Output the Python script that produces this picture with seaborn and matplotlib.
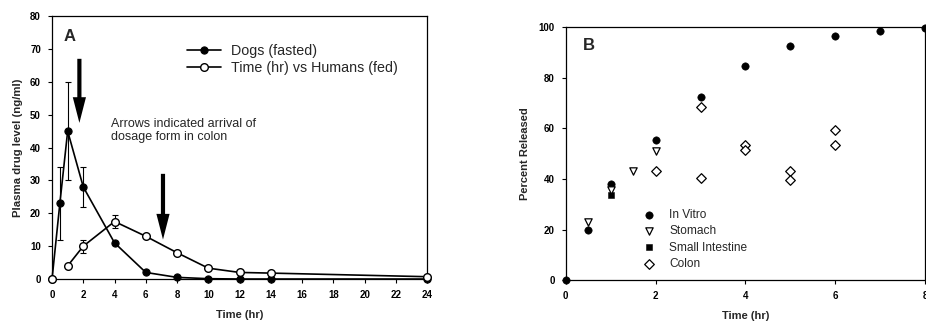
import numpy as np
import pandas as pd
import matplotlib
matplotlib.use("Agg")
import matplotlib.pyplot as plt
import seaborn as sns

# ---------------- Data: panel A ----------------
time_a = [0, 0.5, 1, 2, 4, 6, 8, 10, 12, 14, 24]
dogs = [0, 23, 45, 28, 11, 2, 0.5, 0.1, 0, 0, 0]
dogs_err = [0, 11, 15, 6, 0, 0, 0, 0, 0, 0, 0]
time_h = [0, 1, 2, 4, 6, 8, 10, 12, 14, 24]
humans = [0, 4, 10, 17.5, 13, 8, 3.3, 2, 1.8, 0.7]
humans_err = [0, 0, 2, 2, 0, 0, 0, 0, 0, 0]
arrow_x = [1.75, 7.1]
arrow_top = [67, 32]
arrow_tip = [47.5, 12]
xticks_a = list(range(0, 25, 2))
yticks_a = list(range(0, 81, 10))

# ---------------- Data: panel B ----------------
vitro_t = [0, 0.5, 1, 2, 3, 4, 5, 6, 7, 8]
vitro_v = [0, 20, 38, 55.5, 72.5, 84.5, 92.5, 96.5, 98.5, 99.5]
stomach_t = [0.5, 1, 1.5, 2]
stomach_v = [23, 35.5, 43, 51]
small_t = [1]
small_v = [33.5]
colon_t = [2, 3, 3, 4, 4, 5, 5, 6, 6]
colon_v = [43, 68.5, 40.5, 53.5, 51.5, 43, 39.5, 59.5, 53.5]
xticks_b = [0, 2, 4, 6, 8]
yticks_b = [0, 20, 40, 60, 80, 100]

sns.set_style("white")
plt.rcParams['font.family'] = ['Liberation Sans', 'DejaVu Sans']

fig = plt.figure(figsize=(9.26, 3.22), dpi=100)
axA = fig.add_axes([0.0562, 0.1335, 0.405, 0.8165])
axB = fig.add_axes([0.611, 0.130, 0.388, 0.786])

# ---- Panel A ----
dfd = pd.DataFrame({"t": time_a, "v": dogs})
dfh = pd.DataFrame({"t": time_h, "v": humans})
sns.lineplot(data=dfd, x="t", y="v", ax=axA, color="black", lw=1.2,
             marker="o", markersize=5.2, markerfacecolor="black",
             markeredgecolor="black", label="Dogs (fasted)", clip_on=False, zorder=4)
# humans: line starts at 1 hr, marker also at 0
sns.lineplot(data=dfh.iloc[1:], x="t", y="v", ax=axA, color="black", lw=1.2,
             marker="o", markersize=5.5, markerfacecolor="white",
             markeredgecolor="black", markeredgewidth=1.0,
             label="Time (hr) vs Humans (fed)", clip_on=False, zorder=5)
axA.plot(dfh.t.iloc[:1], dfh.v.iloc[:1], "o", ms=5.5, mfc="white", mec="black",
         mew=1.0, clip_on=False, zorder=6)
axA.errorbar(time_a, dogs, yerr=[[e if e else np.nan for e in dogs_err]] * 2,
             fmt="none", ecolor="black", elinewidth=0.8, capsize=2, capthick=0.8, zorder=3)
axA.errorbar(time_h, humans, yerr=[[e if e else np.nan for e in humans_err]] * 2,
             fmt="none", ecolor="black", elinewidth=0.8, capsize=2, capthick=0.8, zorder=3)
for x, t0, t1 in zip(arrow_x, arrow_top, arrow_tip):
    axA.annotate("", xy=(x, t1), xytext=(x, t0),
                 arrowprops=dict(arrowstyle="simple,head_length=1.85,head_width=0.95,tail_width=0.3",
                                 mutation_scale=10, lw=0, fc="black", ec="black",
                                 shrinkA=0, shrinkB=0))
axA.text(3.75, 49, "Arrows indicated arrival of\ndosage form in colon",
         fontsize=9, va="top", ha="left", linespacing=1.1)
axA.text(0.75, 76, "A", fontsize=12, fontweight="bold", va="top", ha="left")
axA.set_xlim(0, 24)
axA.set_ylim(0, 80)
axA.set_xticks(xticks_a)
axA.set_yticks(yticks_a)
axA.set_xlabel("Time (hr)", fontsize=8, fontweight="bold", labelpad=7)
axA.set_ylabel("Plasma drug level (ng/ml)", fontsize=8.2, fontweight="bold", labelpad=5)
leg = axA.legend(loc="upper left", bbox_to_anchor=(0.36, 0.895), frameon=False,
                 fontsize=10.3, handlelength=2.4, handletextpad=0.7, labelspacing=0.2,
                 borderpad=0, borderaxespad=0)

# ---- Panel B ----
dfb = pd.concat([
    pd.DataFrame({"t": vitro_t, "v": vitro_v, "s": "In Vitro"}),
    pd.DataFrame({"t": stomach_t, "v": stomach_v, "s": "Stomach"}),
    pd.DataFrame({"t": small_t, "v": small_v, "s": "Small Intestine"}),
    pd.DataFrame({"t": colon_t, "v": colon_v, "s": "Colon"}),
], ignore_index=True)
sns.scatterplot(data=dfb[dfb.s == "In Vitro"], x="t", y="v", ax=axB, marker="o",
                s=28, color="black", edgecolor="black", label="In Vitro", clip_on=False, zorder=4)
sns.scatterplot(data=dfb[dfb.s == "Stomach"], x="t", y="v", ax=axB, marker="v",
                s=28, facecolor="white", edgecolor="black", linewidth=0.9,
                label="Stomach", clip_on=False, zorder=5)
sns.scatterplot(data=dfb[dfb.s == "Small Intestine"], x="t", y="v", ax=axB, marker="s",
                s=22, color="black", edgecolor="black", label="Small Intestine",
                clip_on=False, zorder=4)
sns.scatterplot(data=dfb[dfb.s == "Colon"], x="t", y="v", ax=axB, marker="D",
                s=24, facecolor="white", edgecolor="black", linewidth=0.9,
                label="Colon", clip_on=False, zorder=5)
axB.text(0.37, 95.5, "B", fontsize=12, fontweight="bold", va="top", ha="left")
axB.set_xlim(0, 8)
axB.set_ylim(0, 100)
axB.set_xticks(xticks_b)
axB.set_yticks(yticks_b)
axB.set_xlabel("Time (hr)", fontsize=8, fontweight="bold", labelpad=7)
axB.set_ylabel("Percent Released", fontsize=8, fontweight="bold", labelpad=6)
axB.legend(loc="upper left", bbox_to_anchor=(0.215, 0.28), frameon=False, fontsize=8.6,
           handlelength=1.0, handletextpad=1.2, labelspacing=0.35, borderpad=0,
           borderaxespad=0)

for ax in (axA, axB):
    for sp in ax.spines.values():
        sp.set_visible(True)
        sp.set_color("black")
        sp.set_linewidth(0.9)
    ax.tick_params(axis="both", which="both", direction="out", length=3, width=0.8,
                   labelsize=7, pad=5, colors="black", bottom=True, left=True)
    for lab in ax.get_xticklabels() + ax.get_yticklabels():
        lab.set_fontweight("bold")

fig.savefig("out.png", dpi=100)
